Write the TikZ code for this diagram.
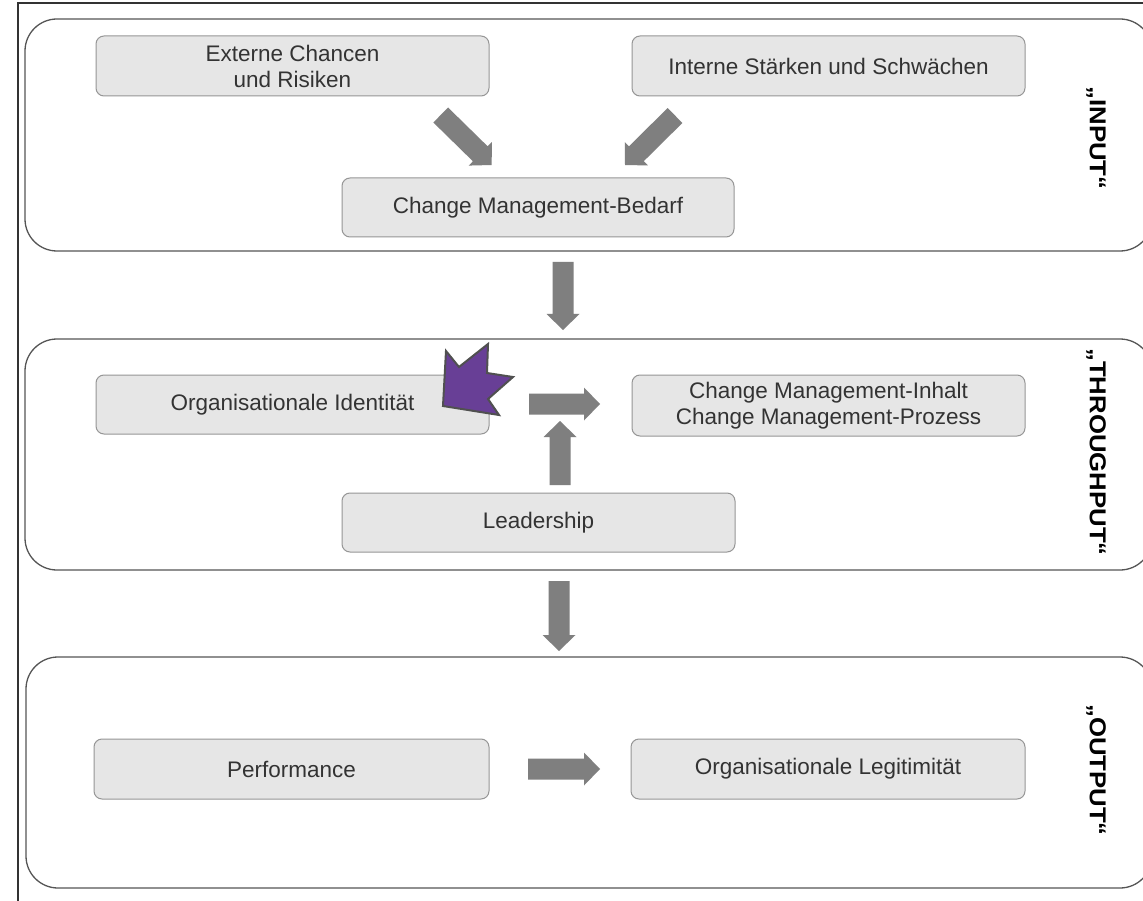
\documentclass[tikz,border=0pt]{standalone}
\usepackage{fontspec}
\setmainfont{Liberation Sans}
\usetikzlibrary{calc}
\definecolor{panelgray}{RGB}{85,85,85}
\definecolor{framegray}{RGB}{50,50,50}
\definecolor{boxfill}{RGB}{230,230,230}
\definecolor{boxline}{RGB}{150,150,150}
\definecolor{textgray}{RGB}{51,51,51}
\definecolor{arrowgray}{RGB}{127,127,127}
\definecolor{starpurple}{RGB}{104,63,150}
\definecolor{stargray}{RGB}{80,80,80}
% block arrow from tail #1 to tip #2
\newcommand\blockarrow[2]{%
  \coordinate (ba-base) at ($(#2)!16pt!(#1)$);
  \fill[arrowgray]
    ($(#1)!10.5pt!90:(#2)$) -- ($(ba-base)!10.5pt!90:(#2)$) --
    ($(ba-base)!16.5pt!90:(#2)$) -- (#2) --
    ($(ba-base)!16.5pt!-90:(#2)$) -- ($(ba-base)!10.5pt!-90:(#2)$) --
    ($(#1)!10.5pt!-90:(#2)$) -- cycle;}
\begin{document}
\begin{tikzpicture}[x=1pt,y=-1pt,
  panel/.style={draw=panelgray, line width=1.3pt, rounded corners=32pt},
  stepbox/.style={draw=boxline, fill=boxfill, line width=1pt, rounded corners=8pt,
    text=textgray, font=\fontsize{22.5}{26}\selectfont, align=center,
    inner sep=0pt, minimum height=60pt},
  phase/.style={rotate=-90, xscale=1.12, text=black, font=\fontsize{23}{26}\selectfont\bfseries}]
\useasboundingbox (0,0) rectangle (1143,901);
\clip (0,0) rectangle (1143,901);
\fill[white] (0,0) rectangle (1143,901);

% outer frame
\draw[framegray, line width=1.5pt] (1160,3) -- (18,3) -- (18,920);

% phase panels
\draw[panel] (25,19) rectangle (1152,251);
\draw[panel] (25,339) rectangle (1152,570);
\draw[panel] (26,657) rectangle (1152,888);

% phase labels
\node[phase] (lin) at (1096,138) {„INPUT“};
\node[phase] (lthr) at (1096,452) {„THROUGHPUT“};
\node[phase] (lout) at (1096,770) {„OUTPUT“};

% input
\node[stepbox, minimum width=393pt] (ext) at (292.5,66) {Externe Chancen\\und Risiken};
\node[stepbox, minimum width=393pt] (int) at (828.5,66) {Interne Stärken und Schwächen};
\node[stepbox, minimum width=392pt, minimum height=59pt] (bed) at (538,207.5) {Change Management-Bedarf};

% throughput
\node[stepbox, minimum width=393pt, minimum height=59pt] (ident) at (292.5,404.5) {Organisationale Identität};
\node[stepbox, minimum width=393pt, minimum height=61pt] (inh) at (828.5,405.5) {Change Management-Inhalt\\Change Management-Prozess};
\node[stepbox, minimum width=393pt, minimum height=59pt] (lead) at (538.5,522.5) {Leadership};

% output
\node[stepbox, minimum width=395pt] (perf) at (291.5,769) {Performance};
\node[stepbox, minimum width=394pt] (legit) at (828,769) {Organisationale Legitimität};

% arrow end points
\coordinate (a1s) at (440.7,115);  \coordinate (a1e) at (491.7,165);
\coordinate (a2s) at (675,115.5);  \coordinate (a2e) at (625,165);
\coordinate (a3s) at (563,262);    \coordinate (a3e) at (563,330);
\coordinate (a4s) at (529,404);    \coordinate (a4e) at (600,404);
\coordinate (a5s) at (560,485);    \coordinate (a5e) at (560,421);
\coordinate (a6s) at (559,581);    \coordinate (a6e) at (559,651);
\coordinate (a7s) at (528,769);    \coordinate (a7e) at (600,769);

\blockarrow{a1s}{a1e}
\blockarrow{a2s}{a2e}
\blockarrow{a3s}{a3e}
\blockarrow{a4s}{a4e}
\blockarrow{a5s}{a5e}
\blockarrow{a6s}{a6e}
\blockarrow{a7s}{a7e}

% purple star marker
\filldraw[fill=starpurple, draw=stargray, line width=2pt, line join=miter]
  (446,351) -- (459,367) -- (488,344) -- (487,373) -- (513,377) --
  (488,399) -- (499,415) -- (443,406) -- cycle;
\end{tikzpicture}
\end{document}
